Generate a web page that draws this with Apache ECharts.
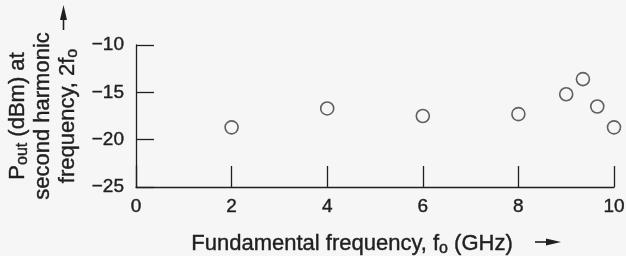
<!DOCTYPE html>
<html>
<head>
<meta charset="utf-8">
<style>
  html, body { margin: 0; padding: 0; background: #f6f6f6; }
  #chart { width: 626px; height: 256px; }
</style>
<script src="https://cdn.jsdelivr.net/npm/echarts@6/dist/echarts.min.js"></script>
</head>
<body>
<div id="chart"></div>
<script>
// fundamental frequency (GHz) and second harmonic output (dBm)
const freq = [2, 4, 6, 8, 9.0, 9.35, 9.65, 10]
const pout = [-18.7, -16.7, -17.5, -17.3, -15.2, -13.6, -16.5, -18.7]

const ink = '#1f1f1f'
const font = '"Liberation Sans", Arial, sans-serif'
// slight outline to get the heavier print look
const heavy = { textBorderColor: ink, textBorderWidth: 0.4 }

const myChart = echarts.init(document.getElementById('chart'), null, { renderer: 'canvas' })

myChart.setOption({
  backgroundColor: '#f6f6f6',
  animation: false,
  grid: { left: 136, right: 12, top: 45, bottom: 69, outerBoundsMode: 'none', containLabel: false },
  xAxis: {
    type: 'value',
    min: 0, max: 10, interval: 2,
    axisLine: { show: true, lineStyle: { color: ink, width: 1.3 } },
    axisTick: { show: true, inside: true, length: 21, lineStyle: { color: ink, width: 1.3 } },
    splitLine: { show: false },
    axisLabel: { color: ink, fontSize: 19, fontFamily: font, margin: 10, ...heavy },
    name: 'Fundamental frequency, f{sub|o} (GHz)',
    nameLocation: 'middle',
    nameGap: 44,
    nameTextStyle: {
      color: ink, fontSize: 22, fontFamily: font, padding: [0, 46, 0, 0], ...heavy,
      rich: {
        sub: { fontSize: 16, fontFamily: font, color: ink, padding: [10, 0, 0, 0], ...heavy }
      }
    }
  },
  yAxis: {
    type: 'value',
    min: -25, max: -10, interval: 5,
    axisLine: { show: true, lineStyle: { color: ink, width: 1.3 } },
    axisTick: { show: true, inside: true, length: 18, lineStyle: { color: ink, width: 1.3 } },
    splitLine: { show: false },
    axisLabel: {
      color: ink, fontSize: 19, fontFamily: font, margin: 12, ...heavy,
      formatter: v => String(v).replace('-', '\u2212')
    },
    name: 'P{sub|out} (dBm) at\nsecond harmonic\nfrequency, 2f{sub|o}',
    nameLocation: 'middle',
    nameGap: 56,
    nameTextStyle: {
      color: ink, fontSize: 22, fontFamily: font, lineHeight: 25, align: 'center', ...heavy,
      rich: {
        sub: { fontSize: 16, fontFamily: font, color: ink, padding: [10, 0, 0, 0], align: 'center', ...heavy }
      }
    }
  },
  graphic: [
    // x-axis direction arrow
    { type: 'line', shape: { x1: 535, y1: 242, x2: 549, y2: 242 }, style: { stroke: ink, lineWidth: 1.6 } },
    { type: 'polygon', shape: { points: [[546, 238.5], [561, 242], [546, 245.5]] }, style: { fill: ink } },
    // y-axis direction arrow
    { type: 'line', shape: { x1: 63.5, y1: 30, x2: 63.5, y2: 17 }, style: { stroke: ink, lineWidth: 1.6 } },
    { type: 'polygon', shape: { points: [[60, 20], [63.5, 5], [67, 20]] }, style: { fill: ink } }
  ],
  series: [
    {
      type: 'scatter',
      data: freq.map((f, i) => [f, pout[i]]),
      symbol: 'circle',
      symbolSize: 13,
      itemStyle: { color: 'rgba(0,0,0,0)', borderColor: '#3a3a3a', borderWidth: 1.6 }
    }
  ]
})
</script>
</body>
</html>
